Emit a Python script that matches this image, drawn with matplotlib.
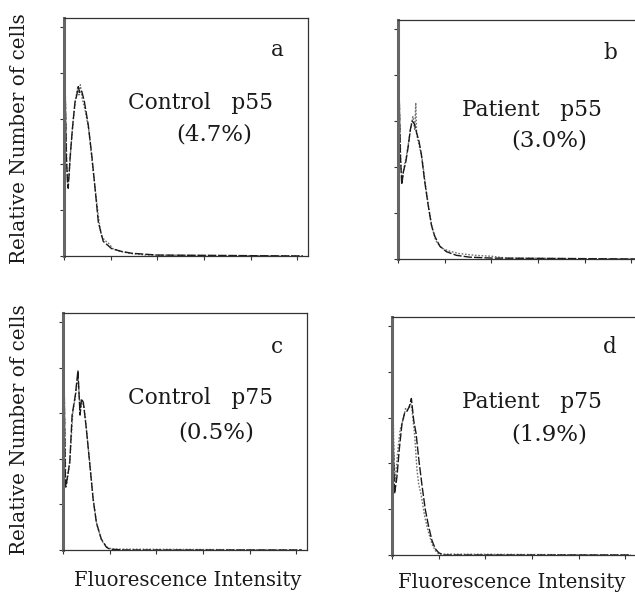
import numpy as np
import matplotlib
matplotlib.use("Agg")
import matplotlib.pyplot as plt

#--------------------------- data ---------------------------
# channel (0-1023) and relative cell count for each histogram

# a : Control p55
a_ch_solid = [0, 4, 10, 15, 18, 26, 36, 47, 55, 61, 68, 76, 87, 104, 119, 133, 147, 168, 204, 247, 290, 400, 1023]
a_val_solid = [260, 200, 110, 80, 74, 107, 139, 168, 176, 185, 178, 180, 169, 143, 110, 74, 37, 16, 8, 5, 3, 1, 0]
a_ch_dot = [0, 5, 12, 17, 22, 30, 40, 50, 58, 64, 70, 78, 90, 106, 120, 135, 150, 160, 175, 190, 210, 240, 280, 350, 1023]
a_val_dot = [250, 180, 100, 78, 88, 120, 150, 172, 183, 176, 187, 172, 160, 138, 104, 70, 38, 22, 17, 14, 8, 5, 3, 1, 0]

# b : Patient p55
b_ch_solid = [0, 4, 10, 16, 24, 33, 43, 53, 61, 70, 79, 90, 100, 114, 129, 143, 157, 179, 207, 250, 307, 400, 1023]
b_val_solid = [261, 194, 114, 81, 96, 105, 121, 141, 150, 147, 138, 128, 114, 85, 59, 37, 25, 14, 8, 4, 2, 1, 0]
b_ch_dot = [0, 5, 12, 18, 26, 36, 46, 56, 64, 72, 76, 80, 92, 104, 118, 132, 146, 162, 185, 215, 260, 330, 400, 464, 1023]
b_val_dot = [255, 180, 105, 85, 100, 112, 128, 145, 155, 140, 170, 135, 122, 108, 80, 55, 34, 20, 12, 9, 6, 4, 3, 1, 0]

# c : Control p75
c_ch_solid = [0, 3, 6, 10, 12, 29, 39, 53, 64, 73, 79, 87, 100, 114, 129, 143, 164, 186, 200, 260, 1023]
c_val_solid = [260, 230, 160, 80, 69, 96, 148, 170, 197, 148, 166, 162, 133, 96, 56, 30, 12, 3, 1, 0, 0]
c_ch_dot = [0, 4, 8, 12, 16, 30, 42, 55, 64, 74, 80, 90, 102, 116, 130, 145, 166, 190, 210, 1023]
c_val_dot = [250, 200, 130, 75, 72, 100, 150, 172, 192, 150, 164, 158, 128, 92, 54, 28, 10, 3, 1, 0]

# d : Patient p75
d_ch_solid = [0, 2, 6, 11, 21, 31, 43, 54, 64, 74, 83, 93, 103, 115, 129, 143, 157, 171, 185, 200, 221, 1023]
d_val_solid = [260, 169, 120, 67, 85, 115, 144, 155, 157, 162, 171, 147, 133, 104, 75, 49, 31, 16, 7, 2.5, 0, 0]
d_ch_dot = [0, 4, 9, 14, 25, 35, 50, 58, 64, 74, 80, 86, 97, 107, 114, 126, 140, 154, 171, 185, 200, 1023]
d_val_dot = [255, 170, 100, 80, 115, 137, 150, 160, 158, 162, 165, 158, 131, 93, 78, 64, 42, 27, 12, 5, 1, 0]

labels = ["a", "b", "c", "d"]
titles = ["Control   p55", "Patient   p55", "Control   p75", "Patient   p75"]
percents = ["(4.7%)", "(3.0%)", "(0.5%)", "(1.9%)"]

x_ticks = [0, 200, 400, 600, 800, 1000]
y_ticks = [0, 50, 100, 150, 200, 250]

#--------------------------- figure ---------------------------
W, H = 635, 594
fig = plt.figure(figsize=(W / 100, H / 100), dpi=100)
plt.rcParams['font.family'] = ['DejaVu Serif']
INK = '#1a1a1a'


def px_box(left, top, width, height):
    return [left / W, 1 - (top + height) / H, width / W, height / H]


def px(x, y):
    return x / W, 1 - y / H


boxes = [px_box(64, 18, 244, 238), px_box(398, 20, 244, 239),
         px_box(63, 313, 244, 237), px_box(392, 317, 244, 238)]

series = [(a_ch_solid, a_val_solid, a_ch_dot, a_val_dot),
          (b_ch_solid, b_val_solid, b_ch_dot, b_val_dot),
          (c_ch_solid, c_val_solid, c_ch_dot, c_val_dot),
          (d_ch_solid, d_val_solid, d_ch_dot, d_val_dot)]

# text anchors in pixels: letter, title, percent
text_pos = [((277, 50), (200, 103), (214, 135)),
            ((610, 53), (532, 110), (549, 140)),
            ((277, 347), (201, 398), (216, 432)),
            ((610, 347), (532, 402), (549, 434))]

for i in range(4):
    ax = fig.add_axes(boxes[i])
    cs, vs, cd, vd = series[i]
    ax.plot(cd, vd, color='#707070', lw=1.0, ls=(0, (1.2, 1.2)))
    ax.plot(cs, vs, color=INK, lw=1.0, ls=(0, (6, 1.5)))
    ax.set_xlim(0, 1045)
    ax.set_ylim(0, 260)
    ax.set_xticks(x_ticks)
    ax.set_yticks(y_ticks)
    ax.set_xticklabels([])
    ax.set_yticklabels([])
    ax.tick_params(direction='out', length=3, width=0.8, color='#333333')
    for s in ['top', 'right', 'bottom']:
        ax.spines[s].set_color('#333333')
        ax.spines[s].set_linewidth(0.9)
    ax.spines['left'].set_color('#666666')
    ax.spines['left'].set_linewidth(2.2)

    (lx, ly), (tx, ty), (qx, qy) = text_pos[i]
    fig.text(*px(lx, ly), labels[i], ha='center', va='center', fontsize=15.5, color=INK)
    fig.text(*px(tx, ty), titles[i], ha='center', va='center', fontsize=15.7, color=INK)
    fig.text(*px(qx, qy), percents[i], ha='center', va='center', fontsize=16.5, color=INK)

# axis labels
fig.text(*px(20, 139), "Relative Number of cells", rotation=90, ha='center', va='center',
         fontsize=14.3, color=INK)
fig.text(*px(20, 430), "Relative Number of cells", rotation=90, ha='center', va='center',
         fontsize=14.3, color=INK)
fig.text(*px(188, 581), "Fluorescence Intensity", ha='center', va='center', fontsize=14.1, color=INK)
fig.text(*px(512, 583), "Fluorescence Intensity", ha='center', va='center', fontsize=14.1, color=INK)

fig.savefig("out.png", dpi=100)
